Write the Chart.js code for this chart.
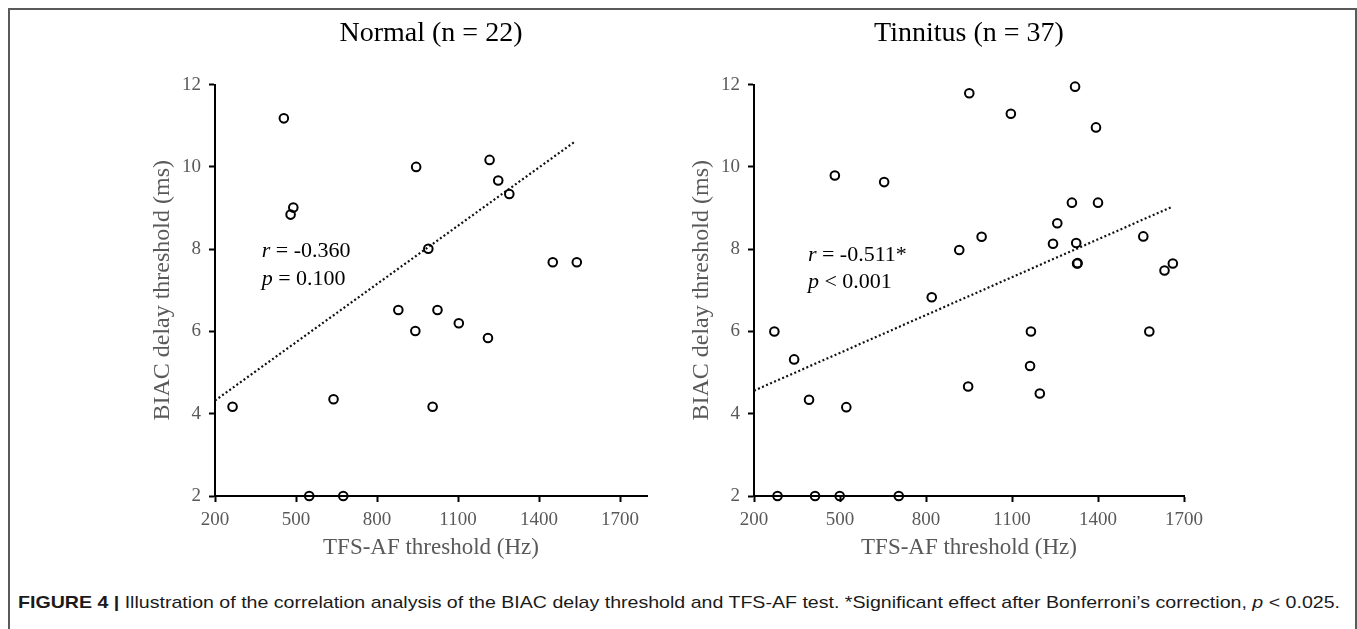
<!DOCTYPE html>
<html>
<head>
<meta charset="utf-8">
<script src="https://cdn.jsdelivr.net/npm/chart.js@4.4.1/dist/chart.umd.min.js"></script>
<style>
  html, body { margin: 0; padding: 0; background: #fff; }
  body { width: 1357px; height: 629px; position: relative; overflow: hidden; }
  #frame { position: absolute; left: 8px; top: 8px; width: 1345px; height: 660px;
           border: 2px solid #5a5a5a; border-bottom: none; }
  canvas { position: absolute; top: 0; }
  #caption { position: absolute; left: 18px; top: 593px; white-space: nowrap;
             font: 17px "Liberation Sans Narrow", "Liberation Sans", Arial, sans-serif;
             color: #1a1a1a; transform-origin: 0 0; }
</style>
</head>
<body>
<div id="frame"></div>
<canvas id="normal" width="520" height="566" style="left:145px"></canvas>
<canvas id="tinnitus" width="530" height="566" style="left:684px"></canvas>
<div id="caption"><b>FIGURE 4 |</b> Illustration of the correlation analysis of the BIAC delay threshold and TFS-AF test. *Significant effect after Bonferroni’s correction, <i>p</i> &lt; 0.025.</div>
<script>
// values
const xTicks = [200, 500, 800, 1100, 1400, 1700];

const normalX = [265, 455, 480, 490, 549, 639, 675, 879, 942, 945, 990, 1006, 1024, 1103, 1211, 1217, 1249, 1290, 1451, 1540];
const normalY = [4.17, 11.18, 8.84, 9.01, 2.0, 4.35, 2.0, 6.52, 6.01, 10.0, 8.01, 4.17, 6.52, 6.2, 5.84, 10.17, 9.67, 9.34, 7.68, 7.68];
const normalFitX = [200, 1530];
const normalFitY = [4.32, 10.6];

const tinnitusX = [271, 282, 340, 392, 413, 482, 499, 522, 654, 705, 820, 916, 947, 951, 994, 1096, 1163, 1166, 1197, 1243,
                   1258, 1309, 1320, 1324, 1327, 1329, 1393, 1400, 1558, 1579, 1632, 1661];
const tinnitusY = [6.0, 2.0, 5.32, 4.34, 2.0, 9.79, 2.0, 4.16, 9.63, 2.0, 6.83, 7.98, 4.66, 11.79, 8.30, 11.29, 5.16, 6.0, 4.49, 8.13,
                   8.63, 9.13, 11.95, 8.15, 7.65, 7.66, 10.96, 9.13, 8.31, 6.0, 7.48, 7.65];
const tinnitusFitX = [200, 1655];
const tinnitusFitY = [4.56, 9.02];

const serif = '"Liberation Serif", "Times New Roman", serif';

// r / p text drawn inside the plot
const notePlugin = {
    id: 'note',
    afterDatasetsDraw(chart, args, opts) {
        const ctx = chart.ctx;
        const sx = chart.scales.x, sy = chart.scales.y;
        ctx.save();
        ctx.fillStyle = '#000';
        ctx.textBaseline = 'alphabetic';
        opts.lines.forEach(function (line, i) {
            let px = sx.getPixelForValue(opts.at[0]);
            const py = sy.getPixelForValue(opts.at[1]) + i * opts.gap;
            line.forEach(function (seg) {
                ctx.font = (seg.i ? 'italic ' : '') + '22px ' + serif;
                ctx.fillText(seg.t, px, py);
                px += ctx.measureText(seg.t).width;
            });
        });
        ctx.restore();
    }
};

function pairs(xs, ys) {
    return xs.map(function (v, i) { return {x: v, y: ys[i]}; });
}

function makeChart(id, title, xs, ys, fx, fy, xMax, padRight, note) {
    return new Chart(document.getElementById(id), {
        type: 'scatter',
        data: {
            datasets: [{
                data: pairs(xs, ys),
                pointStyle: 'circle',
                pointRadius: 4.3,
                borderWidth: 2,
                borderColor: '#000',
                backgroundColor: 'rgba(0,0,0,0)',
                clip: false
            }, {
                type: 'line',
                data: pairs(fx, fy),
                showLine: true,
                borderColor: '#111',
                borderWidth: 2.2,
                borderDash: [2, 2.4],
                pointRadius: 0,
                fill: false
            }]
        },
        options: {
            responsive: false,
            animation: false,
            events: [],
            layout: { padding: { top: 9, right: padRight, bottom: 0, left: 0 } },
            plugins: {
                legend: { display: false },
                tooltip: { enabled: false },
                title: {
                    display: true,
                    text: title,
                    fullSize: false,
                    color: '#000',
                    font: { family: serif, size: 28, weight: 'normal' },
                    padding: { top: 8, bottom: 34 }
                },
                note: note
            },
            scales: {
                x: {
                    type: 'linear',
                    min: 200,
                    max: xMax,
                    afterBuildTicks: function (s) { s.ticks = xTicks.map(function (v) { return {value: v}; }); },
                    afterFit: function (s) { s.height = 70; },
                    grid: { drawOnChartArea: false, drawTicks: true, tickLength: 6, tickWidth: 2, tickColor: '#000' },
                    border: { color: '#000', width: 2 },
                    ticks: { color: '#595959', padding: 7, maxRotation: 0, font: { family: serif, size: 19 },
                             callback: function (v) { return String(v); } },
                    title: { display: true, text: 'TFS-AF threshold (Hz)', color: '#595959', padding: 4,
                             font: { family: serif, size: 23 } }
                },
                y: {
                    min: 2,
                    max: 12,
                    ticks: { stepSize: 2, color: '#595959', padding: 8, font: { family: serif, size: 19 } },
                    afterFit: function (s) { s.width = 70; },
                    grid: { drawOnChartArea: false, drawTicks: true, tickLength: 6, tickWidth: 2, tickColor: '#000' },
                    border: { color: '#000', width: 2 },
                    title: { display: true, text: 'BIAC delay threshold (ms)', color: '#595959', padding: 3,
                             font: { family: serif, size: 24 } }
                }
            }
        },
        plugins: [notePlugin]
    });
}

function fitCaption() {
    const cap = document.getElementById('caption');
    const w = cap.getBoundingClientRect().width;
    cap.style.transform = 'scaleX(' + (1322 / w) + ')';
}

document.fonts.ready.then(function () {
    makeChart('normal', 'Normal (n = 22)', normalX, normalY, normalFitX, normalFitY, 1800, 18, {
        at: [373, 7.82], gap: 28,
        lines: [[{t: 'r', i: true}, {t: ' = -0.360'}], [{t: 'p', i: true}, {t: ' = 0.100'}]]
    });
    makeChart('tinnitus', 'Tinnitus (n = 37)', tinnitusX, tinnitusY, tinnitusFitX, tinnitusFitY, 1700, 30, {
        at: [388, 7.71], gap: 27,
        lines: [[{t: 'r', i: true}, {t: ' = -0.511*'}], [{t: 'p', i: true}, {t: ' < 0.001'}]]
    });
    fitCaption();
});
</script>
</body>
</html>
